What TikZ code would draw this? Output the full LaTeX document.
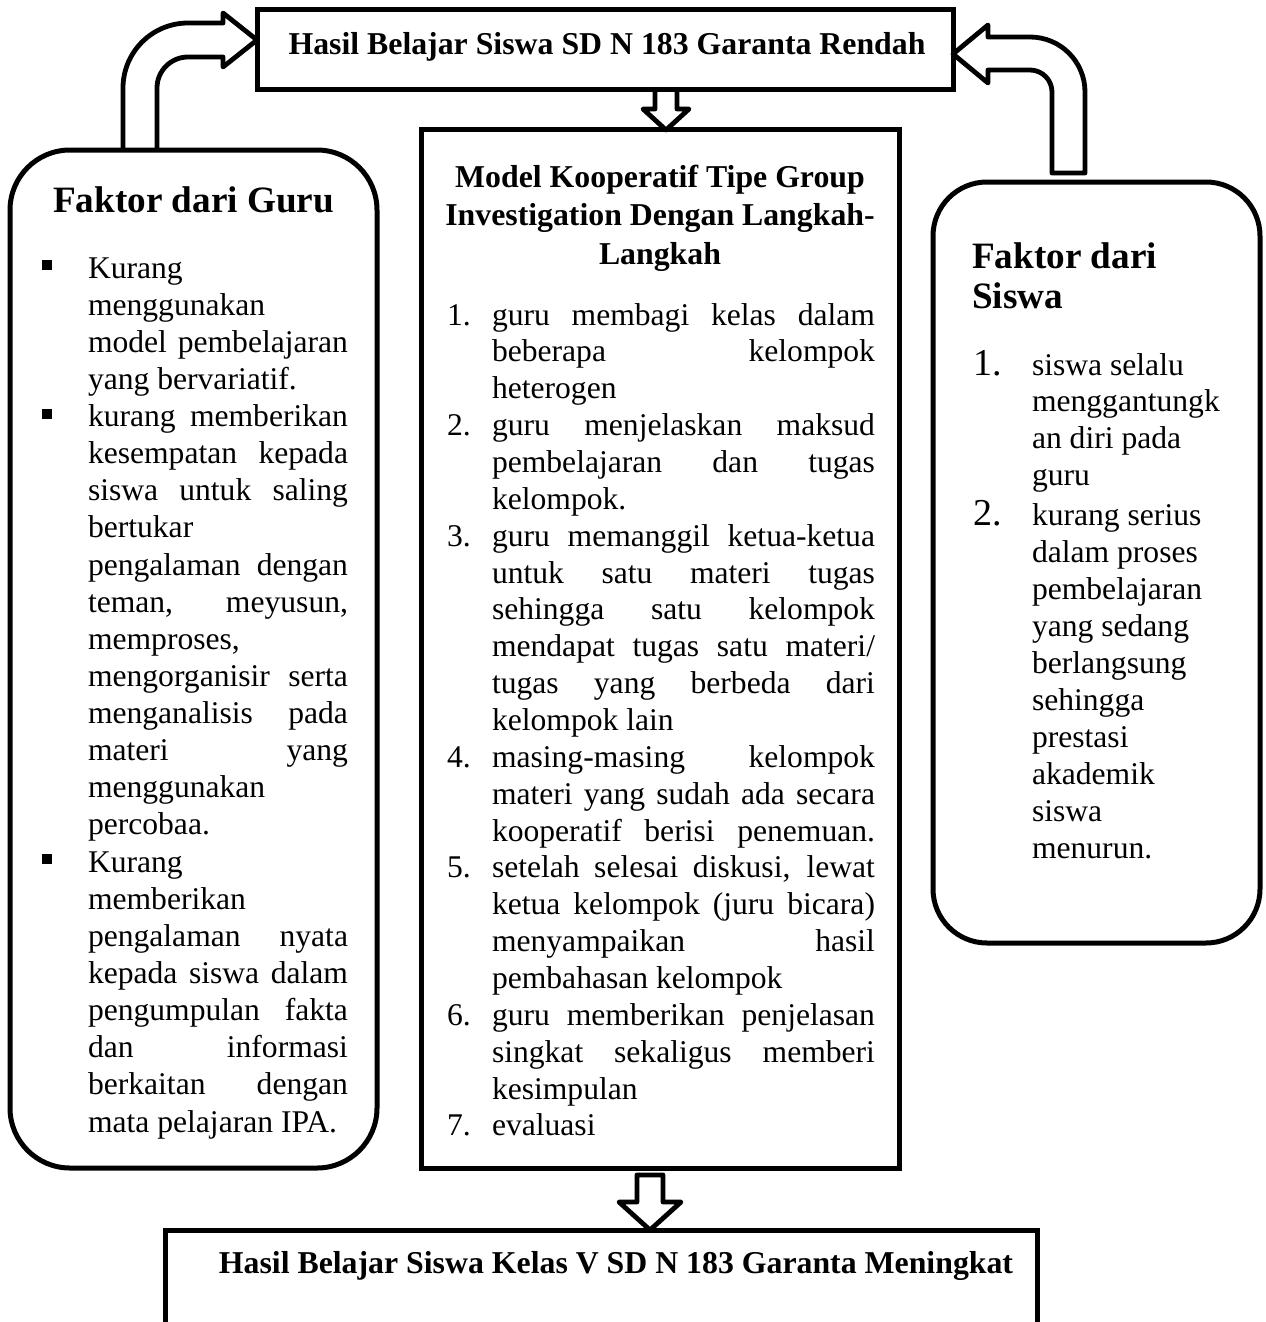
\documentclass[tikz,border=0pt]{standalone}
\usepackage{fontspec}
\setmainfont{Liberation Serif}
\newcommand\bodyf{\fontsize{15.8}{18}\selectfont}
\newcommand\titlef{\fontsize{15.9}{18}\selectfont\bfseries}
\newcommand\headf{\fontsize{18.6}{21}\selectfont\bfseries}
\newcommand\numf{\fontsize{19}{21}\selectfont}
\newcommand\jl[1]{\makebox[130pt][s]{#1}}
\newcommand\jm[1]{\makebox[191.5pt][s]{#1}}
\begin{document}
\begin{tikzpicture}[x=0.5pt,y=-0.5pt,
  box/.style={draw, line width=2.5pt, inner sep=0pt},
  arr/.style={line width=2.4pt, line join=round},
  txt/.style={anchor=base west, inner sep=0pt, outer sep=0pt, font=\bodyf},
  ttl/.style={anchor=base, inner sep=0pt, outer sep=0pt, font=\titlef},
  hd/.style={anchor=base west, inner sep=0pt, outer sep=0pt, font=\headf},
  num/.style={anchor=base west, inner sep=0pt, outer sep=0pt, font=\numf},
  bul/.style={fill, inner sep=0pt, minimum size=5pt}]
\useasboundingbox (0,0) rectangle (1265,1322);

% boxes
\node[box, minimum width=348pt, minimum height=40pt] (top) at (605,50) {};
\node[box, minimum width=239pt, minimum height=519pt] (mid) at (660,649) {};
\node[box, rounded corners=30pt, minimum width=183.5pt, minimum height=509pt] (lbox) at (193.5,659) {};
\node[box, rounded corners=27pt, minimum width=163.5pt, minimum height=380.5pt] (rbox) at (1096.5,562.5) {};
\coordinate (bl) at (165,1335);
\coordinate (br) at (1037,1335);
\draw[line width=2.5pt] (bl) -- (165,1230) -- (1037,1230) -- (br);

% left bent arrow
\draw[arr] (123,150) -- (123,88) .. controls (123,52.1) and (152.1,23) .. (188,23)
  -- (223,23) -- (223,13) -- (257,40) -- (223,67) -- (223,57) -- (188,57)
  .. controls (170.9,57) and (157,70.9) .. (157,88) -- (157,150);
% right bent arrow
\draw[arr] (1052,173) -- (1052,92) .. controls (1052,79.85) and (1042.15,70) .. (1030,70)
  -- (988,70) -- (988,83) -- (953,54) -- (988,25) -- (988,37) -- (1030,37)
  .. controls (1060.4,37) and (1085,61.6) .. (1085,92) -- (1085,173) -- cycle;
% top middle down arrow
\draw[arr] (655,90) -- (655,109) -- (643,109) -- (666,130) -- (689,109) -- (677,109) -- (677,90);
% bottom down arrow
\draw[arr] (637,1175) -- (637,1202) -- (619,1202) -- (650,1230) -- (681,1202) -- (663,1202) -- (663,1175) -- cycle;

% titles
\node[ttl] (t1) at (607,55) {Hasil Belajar Siswa SD N 183 Garanta Rendah};
\node[ttl] (t2) at (616,1273) {Hasil Belajar Siswa Kelas V SD N 183 Garanta Meningkat};
\node[ttl] (m1) at (660,187) {Model Kooperatif Tipe Group};
\node[ttl] (m2) at (660,225) {Investigation Dengan Langkah-};
\node[ttl] (m3) at (660,264) {Langkah};

% left box
\node[hd] (lh) at (53,213) {Faktor dari Guru};
\foreach \k/\n in {0/b1,4/b2,16/b3}
  \node[bul] (\n) at (47,278+37.13*\k-13) {};
\foreach \t [count=\i from 0] in {
  {Kurang},{menggunakan},{\jl{model pembelajaran}},{yang bervariatif.},
  {\jl{kurang memberikan}},{\jl{kesempatan kepada}},{\jl{siswa untuk saling}},{bertukar},
  {\jl{pengalaman dengan}},{\jl{teman, meyusun,}},{memproses,},{\jl{mengorganisir serta}},
  {\jl{menganalisis pada}},{\jl{materi yang}},{menggunakan},{percobaa.},
  {Kurang},{memberikan},{\jl{pengalaman nyata}},{\jl{kepada siswa dalam}},
  {\jl{pengumpulan fakta}},{\jl{dan informasi}},{\jl{berkaitan dengan}},{mata pelajaran IPA.}}
  \node[txt] (L\i) at (88,278+37.13*\i) {\t};

% middle box
\foreach \k/\n in {0/1,3/2,6/3,12/4,15/5,19/6,22/7}
  \node[txt] (N\n) at (447,325+36.86*\k) {\n.};
\foreach \t [count=\i from 0] in {
  {\jm{guru membagi kelas dalam}},{\jm{beberapa kelompok}},{heterogen},
  {\jm{guru menjelaskan maksud}},{\jm{pembelajaran dan tugas}},{kelompok.},
  {\jm{guru memanggil ketua-ketua}},{\jm{untuk satu materi tugas}},{\jm{sehingga satu kelompok}},
  {\jm{mendapat tugas satu materi/}},{\jm{tugas yang berbeda dari}},{kelompok lain},
  {\jm{masing-masing kelompok}},{\jm{materi yang sudah ada secara}},{\jm{kooperatif berisi penemuan.}},
  {\jm{setelah selesai diskusi, lewat}},{\jm{ketua kelompok (juru bicara)}},{\jm{menyampaikan hasil}},
  {pembahasan kelompok},
  {\jm{guru memberikan penjelasan}},{\jm{singkat sekaligus memberi}},{kesimpulan},
  {evaluasi}}
  \node[txt] (M\i) at (492,325+36.86*\i) {\t};

% right box
\node[hd] (rh1) at (972,268) {Faktor dari};
\node[hd] (rh2) at (972,308) {Siswa};
\node[num] (R1) at (973,375) {1.};
\node[num] (R2) at (973,525) {2.};
\foreach \t [count=\i from 0] in {siswa selalu,menggantungk,an diri pada,guru}
  \node[txt] (Ra\i) at (1032,375+36.7*\i) {\t};
\foreach \t [count=\i from 0] in {kurang serius,dalam proses,pembelajaran,yang sedang,berlangsung,sehingga,prestasi,akademik,siswa,menurun.}
  \node[txt] (Rb\i) at (1032,525+37*\i) {\t};
\end{tikzpicture}
\end{document}
